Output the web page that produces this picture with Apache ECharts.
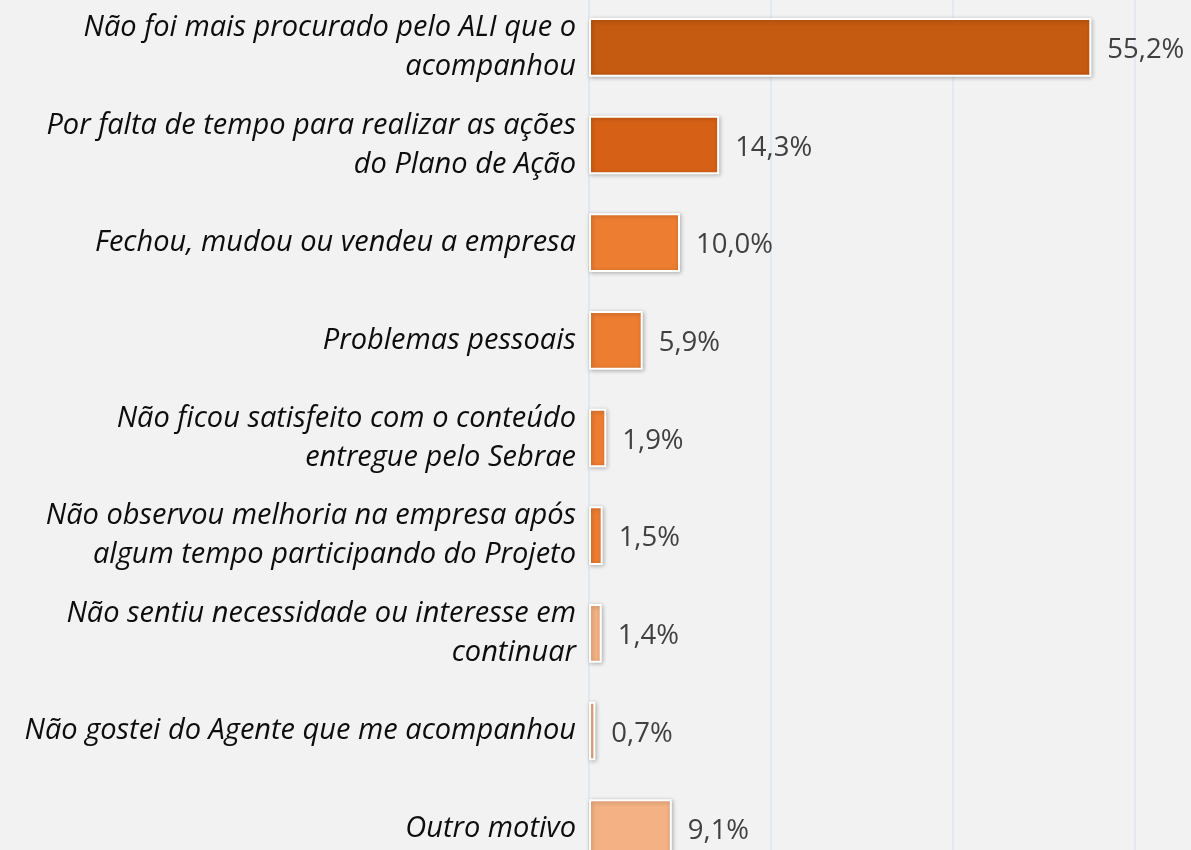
<!DOCTYPE html>
<html>
<head>
<meta charset="utf-8">
<script src="https://cdn.jsdelivr.net/npm/echarts@6/dist/echarts.min.js"></script>
<style>
  html, body { margin: 0; padding: 0; background: #f2f2f2; }
  #chart { width: 1191px; height: 850px; }
</style>
</head>
<body>
<div id="chart"></div>
<script>
// motivos (top to bottom)
var motivos = [
    'Não foi mais procurado pelo ALI que o\nacompanhou',
    'Por falta de tempo para realizar as ações\ndo Plano de Ação',
    'Fechou, mudou ou vendeu a empresa',
    'Problemas pessoais',
    'Não ficou satisfeito com o conteúdo\nentregue pelo Sebrae',
    'Não observou melhoria na empresa após\nalgum tempo participando do Projeto',
    'Não sentiu necessidade ou interesse em\ncontinuar',
    'Não gostei do Agente que me acompanhou',
    'Outro motivo'
];
var percentuais = [55.2, 14.3, 10.0, 5.9, 1.9, 1.5, 1.4, 0.7, 9.1];
var cores = ['#c55a11', '#d66015', '#ed7d31', '#ed7d31', '#ed7d31', '#ed7d31', '#f4b183', '#f4b183', '#f4b183'];

var chart = echarts.init(document.getElementById('chart'));
var option = {
    backgroundColor: '#f2f2f2',
    animation: false,
    grid: {
        left: 589,
        right: 56,
        top: -1.5,
        height: 879,
        outerBoundsMode: 'none'
    },
    xAxis: {
        type: 'value',
        min: 0,
        max: 60,
        interval: 20,
        axisLabel: { show: false },
        axisLine: { show: false },
        axisTick: { show: false },
        splitLine: { lineStyle: { color: '#dce6f2', width: 1.5 } }
    },
    yAxis: {
        type: 'category',
        inverse: true,
        data: motivos,
        axisLine: { show: true, lineStyle: { color: '#dce6f2', width: 1.5 } },
        axisTick: { show: false },
        axisLabel: {
            margin: 13,
            fontFamily: 'Open Sans',
            fontStyle: 'italic',
            fontSize: 29,
            lineHeight: 39,
            color: '#0d0d0d',
            align: 'right'
        }
    },
    series: [{
        type: 'bar',
        barCategoryGap: '40%',
        data: percentuais.map(function (v, i) {
            return { value: v, itemStyle: { color: cores[i] } };
        }),
        itemStyle: {
            borderColor: '#ffffff',
            borderWidth: 2,
            shadowBlur: 4,
            shadowColor: 'rgba(0,0,0,0.25)',
            shadowOffsetX: 1,
            shadowOffsetY: 1
        },
        label: {
            show: true,
            position: 'right',
            distance: 16,
            offset: [0, 3],
            fontFamily: 'Open Sans',
            fontSize: 27.5,
            color: '#404040',
            formatter: function (p) {
                return p.value.toFixed(1).replace('.', ',') + '%';
            }
        }
    }]
};
chart.setOption(option);
</script>
</body>
</html>
